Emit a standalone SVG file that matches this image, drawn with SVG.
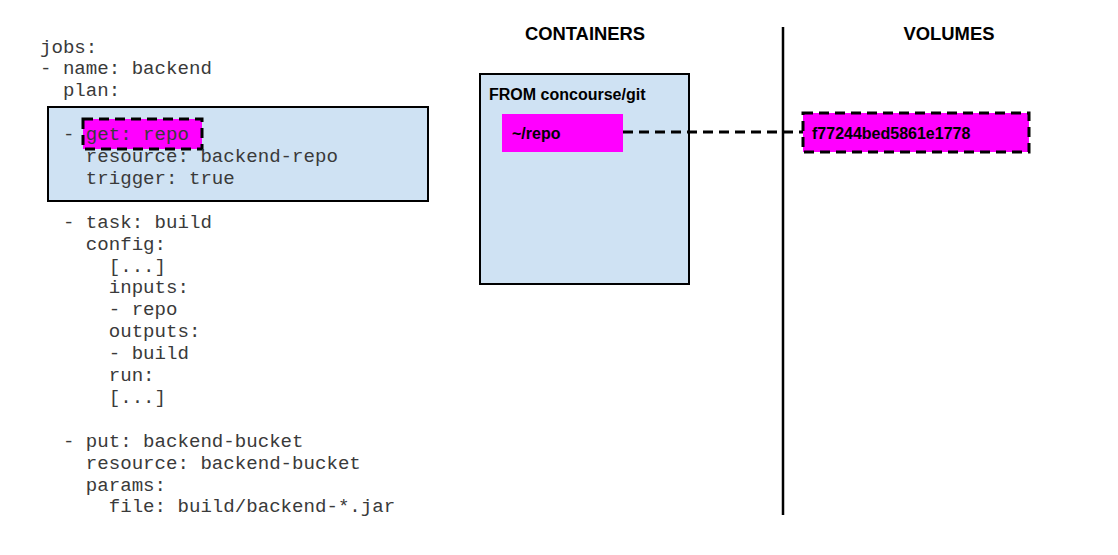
<svg xmlns="http://www.w3.org/2000/svg" width="1118" height="555" viewBox="0 0 1118 555">
<style>
.code{font-family:"Liberation Mono","Courier New",monospace;font-size:19.1px;fill:#3a3a3a;white-space:pre}
.b{font-family:"Liberation Sans",Arial,sans-serif;font-weight:bold;fill:#000}
.blue{fill:#cfe2f3;stroke:#000;stroke-width:2}
.mag{fill:#ff00ff}
.dash{stroke:#000;stroke-width:3;stroke-dasharray:10,6;fill:none}
</style>
<rect width="1118" height="555" fill="#fff"/>
<g id="job-step-box">
<rect class="blue" x="48" y="107" width="380" height="94"/>
</g>
<g id="get-repo">
<rect class="mag" x="83" y="119" width="119" height="30"/>
<rect class="dash" x="83" y="119" width="119" height="30"/>
</g>
<g id="code">
<text class="code" x="40" y="52.5">jobs:</text>
<text class="code" x="40" y="74.4">- name: backend</text>
<text class="code" x="40" y="96.3">  plan:</text>
<text class="code" x="40" y="140.1">  - get: repo</text>
<text class="code" x="40" y="162">    resource: backend-repo</text>
<text class="code" x="40" y="183.9">    trigger: true</text>
<text class="code" x="40" y="227.7">  - task: build</text>
<text class="code" x="40" y="249.6">    config:</text>
<text class="code" x="40" y="271.5">      [...]</text>
<text class="code" x="40" y="293.4">      inputs:</text>
<text class="code" x="40" y="315.3">      - repo</text>
<text class="code" x="40" y="337.2">      outputs:</text>
<text class="code" x="40" y="359.1">      - build</text>
<text class="code" x="40" y="381">      run:</text>
<text class="code" x="40" y="402.9">      [...]</text>
<text class="code" x="40" y="446.7">  - put: backend-bucket</text>
<text class="code" x="40" y="468.6">    resource: backend-bucket</text>
<text class="code" x="40" y="490.5">    params:</text>
<text class="code" x="40" y="512.4">      file: build/backend-*.jar</text>
</g>
<g id="headers">
<text class="b" x="585" y="39.5" font-size="18.4" text-anchor="middle">CONTAINERS</text>
<text class="b" x="949" y="39.5" font-size="18.4" text-anchor="middle">VOLUMES</text>
</g>
<g id="container">
<rect class="blue" x="480" y="74" width="209" height="210"/>
<text class="b" x="489" y="100" font-size="16">FROM concourse/git</text>
</g>
<g id="repo-mount">
<rect class="mag" x="502" y="114" width="121" height="38"/>
<text class="b" x="512" y="139" font-size="16">~/repo</text>
</g>
<g id="connectors">
<line x1="783" y1="27" x2="783" y2="515" stroke="#000" stroke-width="2.5"/>
<line class="dash" x1="623" y1="132" x2="803" y2="132"/>
</g>
<g id="volume">
<rect class="mag" x="803" y="113" width="226" height="39"/>
<rect class="dash" x="803" y="113" width="226" height="39"/>
<text class="b" x="812" y="139" font-size="16">f77244bed5861e1778</text>
</g>
</svg>
